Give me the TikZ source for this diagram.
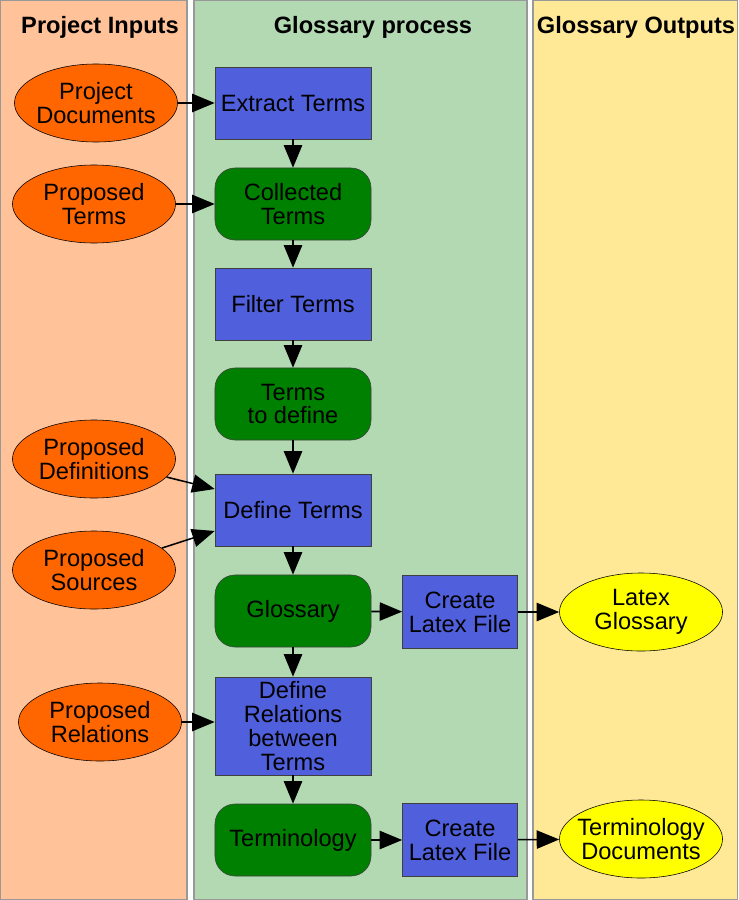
\documentclass[tikz,border=0pt]{standalone}
\usepackage{fontspec}
\setmainfont{Liberation Sans}
\usetikzlibrary{shapes.geometric,arrows.meta,positioning}

\definecolor{inlane}{RGB}{255,194,153}
\definecolor{proclane}{RGB}{179,217,179}
\definecolor{outlane}{RGB}{255,233,150}
\definecolor{inorange}{RGB}{255,102,0}
\definecolor{procblue}{RGB}{80,96,220}
\definecolor{docgreen}{RGB}{0,128,0}
\definecolor{outyellow}{RGB}{255,255,0}

\begin{document}
\begin{tikzpicture}[
    x=0.025cm, y=-0.025cm,
    font=\fontsize{16.8}{17}\selectfont,
    lane/.style={draw=black!40, line width=0.8pt},
    lanetitle/.style={font=\fontsize{16.8}{17}\selectfont\bfseries},
    input/.style={ellipse, draw=black, fill=inorange, minimum width=4.075cm, minimum height=1.95cm, inner xsep=-8pt, inner ysep=0pt, align=center},
    output/.style={ellipse, draw=black, fill=outyellow, minimum width=4.075cm, minimum height=1.95cm, inner xsep=-8pt, inner ysep=0pt, align=center},
    process/.style={rectangle, draw=black!75, fill=procblue, minimum width=3.9cm, minimum height=1.8cm, inner sep=1pt, align=center},
    artefact/.style={rectangle, rounded corners=0.5cm, draw=black!75, fill=docgreen, minimum width=3.9cm, minimum height=1.8cm, inner sep=1pt, align=center},
    flow/.style={-{Triangle[length=16pt, width=13pt]}, line width=1.1pt}
]
    \useasboundingbox (0,0) rectangle (738,900);

    % --- SWIMLANES ---
    \draw[lane, fill=inlane] (0.5,0.5) rectangle (187,899.5);
    \draw[lane, fill=proclane] (194,0.5) rectangle (527,899.5);
    \draw[lane, fill=outlane] (533,0.5) rectangle (737.5,899.5);
    \node[lanetitle] (tin) at (100,27) {Project Inputs};
    \node[lanetitle] (tproc) at (373,27) {Glossary process};
    \node[lanetitle] (tout) at (636,27) {Glossary Outputs};

    % --- MIDDLE: PROCESS CHAIN ---
    \node[process] (extract) at (293,103) {Extract Terms};
    \node[artefact] (collected) at (293,204) {Collected\\Terms};
    \node[process] (filter) at (293,304) {Filter Terms};
    \node[artefact] (todefine) at (293,404) {Terms\\to define};
    \node[process] (define) at (293,510) {Define Terms};
    \node[artefact] (glossary) at (293,611) {Glossary};
    \node[process, minimum height=2.45cm] (relations) at (293,726) {Define\\Relations\\between\\Terms};
    \node[artefact] (terminology) at (293,840) {Terminology};
    \node[process, minimum width=2.875cm, minimum height=1.825cm] (latex1) at (460,612) {Create\\Latex File};
    \node[process, minimum width=2.875cm, minimum height=1.825cm] (latex2) at (460,840) {Create\\Latex File};

    % --- LEFT: INPUTS ---
    \node[input] (projdocs) at (96,103) {Project\\Documents};
    \node[input] (propterms) at (94,204) {Proposed\\Terms};
    \node[input] (propdefs) at (94,459) {Proposed\\Definitions};
    \node[input] (propsrcs) at (94,570) {Proposed\\Sources};
    \node[input] (proprels) at (100,722) {Proposed\\Relations};

    % --- RIGHT: OUTPUTS ---
    \node[output] (latexgloss) at (641,612) {Latex\\Glossary};
    \node[output] (termdocs) at (641,839) {Terminology\\Documents};

    % --- CONNECTORS ---
    \draw[flow] (extract) -- (collected);
    \draw[flow] (collected) -- (filter);
    \draw[flow] (filter) -- (todefine);
    \draw[flow] (todefine) -- (define);
    \draw[flow] (define) -- (glossary);
    \draw[flow] (glossary) -- (relations);
    \draw[flow] (relations) -- (terminology);
    \draw[flow] (glossary) -- (latex1);
    \draw[flow] (latex1) -- (latexgloss);
    \draw[flow] (terminology) -- (latex2);
    \draw[flow] (latex2) -- (termdocs);
    \draw[flow] (projdocs) -- (extract);
    \draw[flow] (propterms) -- (collected);
    \draw[flow] (propdefs) -- (define.165);
    \draw[flow] (propsrcs) -- (define.195);
    \draw[flow] (proprels.east) -- (proprels.east -| relations.west);
\end{tikzpicture}
\end{document}
